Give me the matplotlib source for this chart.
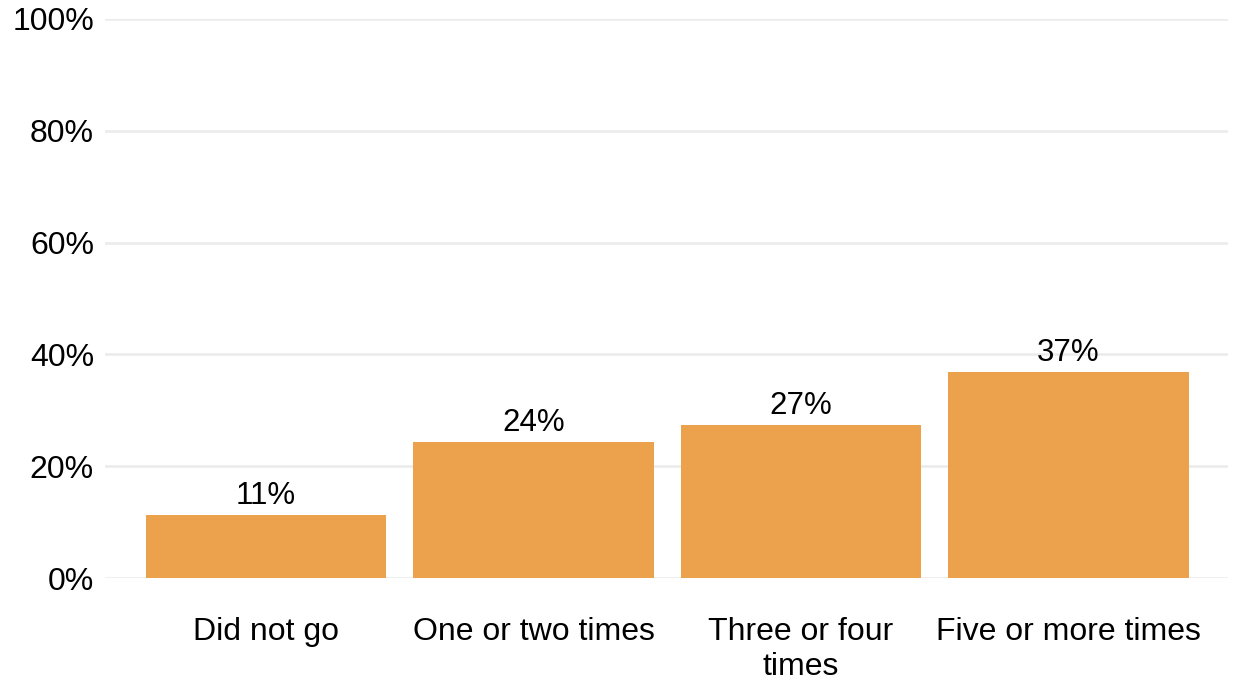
import matplotlib
matplotlib.use("Agg")
import matplotlib.pyplot as plt

categories = ["Did not go", "One or two times", "Three or four\ntimes", "Five or more times"]
values = [11.3, 24.3, 27.4, 36.9]
labels = ["11%", "24%", "27%", "37%"]
yticks = [0, 20, 40, 60, 80, 100]
ytick_labels = ["0%", "20%", "40%", "60%", "80%", "100%"]

plt.rcParams['font.family'] = ['Liberation Sans', 'DejaVu Sans']

fig = plt.figure(figsize=(12.33, 6.84), dpi=100)
ax = fig.add_axes([105/1233, (684-578)/684, (1228-105)/1233, (578-19)/684])

x = list(range(len(categories)))
bars = ax.bar(x, values, width=0.9, color="#ECA14D", zorder=3)
for xi, v, lab in zip(x, values, labels):
    ax.annotate(lab, (xi, v), xytext=(0, 3), textcoords="offset points",
                ha="center", va="bottom", fontsize=22.5, color="#000000")

ax.set_xlim(-0.602, 3.596)
ax.set_ylim(0, 100)
ax.set_yticks(yticks)
ax.set_yticklabels(ytick_labels, fontsize=23)
ax.set_xticks(x)
ax.set_xticklabels(categories, fontsize=23, linespacing=1.22)
ax.tick_params(axis="both", length=0)
ax.tick_params(axis="y", pad=8)
ax.tick_params(axis="x", pad=28)
ax.yaxis.grid(True, color="#EBEBEB", linewidth=1.8, zorder=0)
ax.xaxis.grid(False)
for s in ax.spines.values():
    s.set_visible(False)
ax.set_facecolor("white")

fig.savefig("out.png", dpi=100, facecolor="white")
